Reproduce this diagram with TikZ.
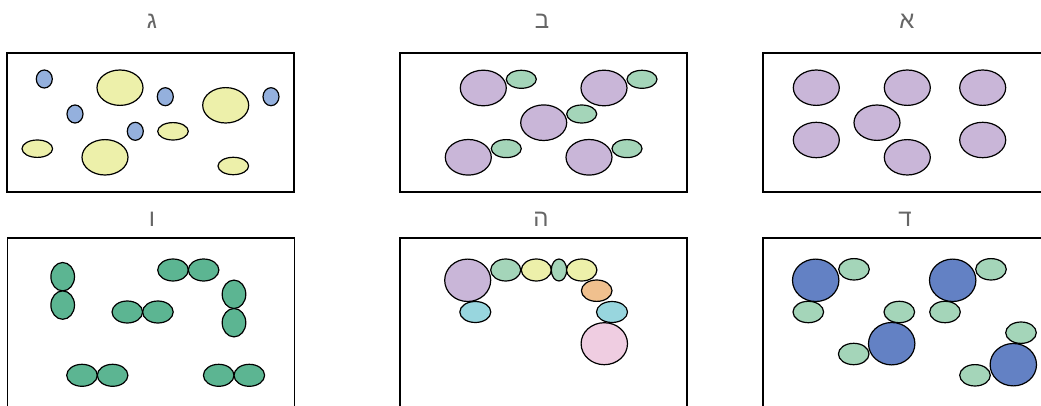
\documentclass[tikz,border=0pt]{standalone}
\usepackage{fontspec}
\newfontfamily\hebfont[Script=Hebrew]{Liberation Sans}
\TeXXeTstate=1
\usetikzlibrary{positioning}
\definecolor{lilac}{HTML}{C9B6D8}
\definecolor{butter}{HTML}{EDF0AA}
\definecolor{sky}{HTML}{94B0DD}
\definecolor{mint}{HTML}{A4D5B9}
\definecolor{cobalt}{HTML}{6381C4}
\definecolor{jade}{HTML}{5CB592}
\definecolor{aqua}{HTML}{98D6DE}
\definecolor{peach}{HTML}{F0C08E}
\definecolor{blush}{HTML}{EFCDE1}
\definecolor{labelgrey}{HTML}{666666}

\begin{document}
\begin{tikzpicture}[x=1pt,y=-1pt,
	panel/.style={draw=black,line width=1.3pt,minimum width=287pt,minimum height=139pt,inner sep=0pt},
	tall/.style={minimum height=200pt},
	title/.style={text=labelgrey,font=\hebfont\fontsize{24}{24}\selectfont},
	cell/.style={draw=black,line width=1.2pt}]
	\useasboundingbox (0,0) rectangle (1041,406);
	% panels and titles
	\node[panel] (p_g) at (150.5,122.5) {};
	\node[panel] (p_b) at (543.5,122.5) {};
	\node[panel] (p_a) at (906.5,122.5) {};
	\node[panel,tall] (p_v) at (151,338) {};
	\node[panel,tall] (p_h) at (543.5,338) {};
	\node[panel,tall] (p_d) at (906.5,338) {};
	\node[title] (t_g) at (152,21) {\beginR ג\endR};
	\node[title] (t_b) at (542,21) {\beginR ב\endR};
	\node[title] (t_a) at (907,21) {\beginR א\endR};
	\node[title] (t_v) at (152,219) {\beginR ו\endR};
	\node[title] (t_h) at (541,219) {\beginR ה\endR};
	\node[title] (t_d) at (905,219) {\beginR ד\endR};
	% gimel
	\foreach \x/\y in {44.3/79,165.3/96.7,271/96.7,75/114,135.3/131.3}
		\draw[cell,fill=sky] (\x,\y) ellipse (8pt and 9pt);
	\foreach \x/\y in {120/87.7,225.7/105.3,105/157.3}
		\draw[cell,fill=butter] (\x,\y) ellipse (23pt and 17.7pt);
	\foreach \x/\y in {173/131.3,37.3/148.7,233.3/166}
		\draw[cell,fill=butter] (\x,\y) ellipse (15.3pt and 8.7pt);
	% bet
	\foreach \x/\y in {483.3/88,604/88,543.7/122.7,468.3/157.3,589/157.3}{
		\draw[cell,fill=lilac] (\x,\y) ellipse (23pt and 17.8pt);
		\draw[cell,fill=mint] (\x+38,\y-8.7) ellipse (15pt and 9pt);
	}
	% alef
	\foreach \x/\y in {816.3/87.7,907.3/87.7,982.7/87.7,877/122.7,816.3/140,982.7/140,907.3/157.3}
		\draw[cell,fill=lilac] (\x,\y) ellipse (23pt and 17.7pt);
	% vav
	\foreach \x/\y in {173/270,127.3/312,82/375.3,218.7/375.3}{
		\draw[cell,fill=jade] (\x,\y) ellipse (15.3pt and 11pt);
		\draw[cell,fill=jade] (\x+30.6,\y) ellipse (15.3pt and 11pt);
	}
	\foreach \x/\y in {62.7/276.7,234/294.3}{
		\draw[cell,fill=jade] (\x,\y) ellipse (11.8pt and 14.2pt);
		\draw[cell,fill=jade] (\x,\y+28.4) ellipse (11.8pt and 14.2pt);
	}
	% he
	\draw[cell,fill=lilac] (467.7,280.3) ellipse (23pt and 21.2pt);
	\draw[cell,fill=aqua] (475.3,312) ellipse (15.5pt and 10.5pt);
	\draw[cell,fill=mint] (505.7,270) ellipse (15pt and 11pt);
	\draw[cell,fill=butter] (536.3,270) ellipse (15pt and 11pt);
	\draw[cell,fill=mint] (559,270) ellipse (7.7pt and 11pt);
	\draw[cell,fill=butter] (581.7,270) ellipse (15.2pt and 11pt);
	\draw[cell,fill=peach] (596.7,290.7) ellipse (15.3pt and 10.7pt);
	\draw[cell,fill=aqua] (612,312) ellipse (15.5pt and 10.5pt);
	\draw[cell,fill=blush] (604.3,343.7) ellipse (23.2pt and 21pt);
	% dalet
	\foreach \x/\y in {854/269.3,808.3/312,991/269.3,945/312,899.3/312,853.7/354,1021/332.7,975/375.3}
		\draw[cell,fill=mint] (\x,\y) ellipse (15.3pt and 10.7pt);
	\foreach \x/\y in {815.7/280.3,952.7/280.3,891.7/343.7,1013.3/364.7}
		\draw[cell,fill=cobalt] (\x,\y) ellipse (23.2pt and 21.2pt);
\end{tikzpicture}
\end{document}
